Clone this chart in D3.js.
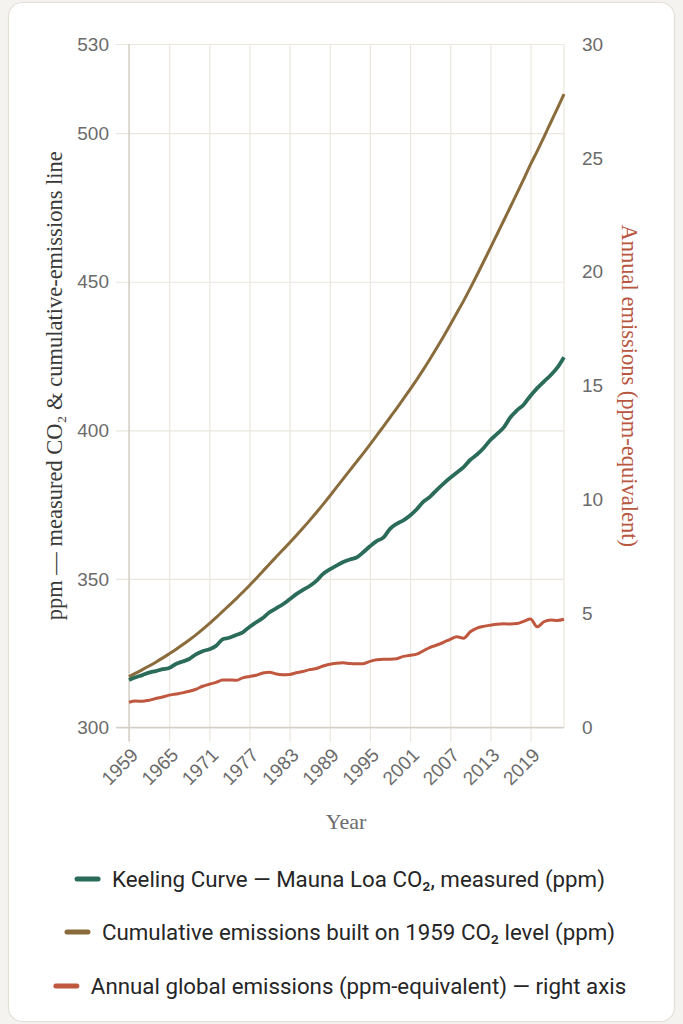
<!DOCTYPE html>
<html><head><meta charset="utf-8">
<script src="https://cdn.jsdelivr.net/npm/d3@7"></script>
<style>
html,body{margin:0;padding:0;background:#f4f3ef;}
svg{display:block;}
</style></head>
<body>
<svg id="chart" width="683" height="1024"></svg>
<script>
const years = d3.range(1959, 2025);
const keeling = [315.98,316.91,317.64,318.45,318.99,319.62,320.04,321.37,322.18,323.05,324.62,325.68,326.32,327.46,329.68,330.19,331.12,332.03,333.84,335.41,336.84,338.76,340.12,341.48,343.15,344.87,346.35,347.61,349.31,351.69,353.20,354.45,355.70,356.54,357.21,358.96,360.97,362.74,363.88,366.84,368.54,369.71,371.32,373.45,375.98,377.70,379.98,382.09,384.02,385.83,387.64,390.10,391.85,394.06,396.74,398.81,401.01,404.41,406.76,408.72,411.65,414.21,416.41,418.53,421.08,424.61];
const cumulative = [317.11,318.29,319.46,320.68,321.98,323.34,324.79,326.28,327.83,329.45,331.16,333.00,334.94,336.95,339.07,341.20,343.30,345.52,347.80,350.13,352.57,355.04,357.43,359.79,362.17,364.61,367.11,369.70,372.34,375.09,377.92,380.79,383.68,386.54,389.39,392.24,395.19,398.21,401.27,404.32,407.40,410.57,413.80,417.08,420.51,424.09,427.78,431.58,435.52,439.58,443.57,447.84,452.28,456.80,461.37,465.98,470.61,475.24,479.88,484.62,489.47,493.97,498.69,503.50,508.28,513.12];
const annual = [1.11,1.16,1.15,1.20,1.27,1.34,1.42,1.47,1.52,1.59,1.68,1.81,1.90,1.98,2.08,2.09,2.07,2.18,2.24,2.29,2.39,2.43,2.35,2.32,2.33,2.40,2.46,2.54,2.59,2.70,2.78,2.82,2.84,2.81,2.80,2.80,2.90,2.97,3.00,3.00,3.02,3.12,3.17,3.22,3.37,3.52,3.62,3.74,3.87,3.98,3.92,4.20,4.36,4.44,4.49,4.53,4.55,4.54,4.56,4.66,4.76,4.42,4.64,4.72,4.70,4.75];
const xTicks = [1959,1965,1971,1977,1983,1989,1995,2001,2007,2013,2019];
const yLeftTicks = [300,350,400,450,500,530];
const yRightTicks = [0,5,10,15,20,25,30];
const seriesNames = ["Keeling Curve — Mauna Loa CO₂, measured (ppm)","Cumulative emissions built on 1959 CO₂ level (ppm)","Annual global emissions (ppm-equivalent) — right axis"];
const seriesColors = ["#2a6b59","#8a6c3c","#c0573f"];

const svg = d3.select("#chart");
// card
svg.append("rect").attr("x",8.5).attr("y",2.5).attr("width",666).attr("height",1019).attr("rx",14)
  .attr("fill","#ffffff").attr("stroke","#e3e0d8").attr("stroke-width",1.2);

const L=129, R=564, T=44, B=727.5;
const x = d3.scaleLinear().domain([1959,2024]).range([L,R]);
const yL = d3.scaleLinear().domain([300,530]).range([B,T]);
const yR = d3.scaleLinear().domain([0,30]).range([B,T]);
const gridC="#ebe7de", axisC="#d3cfc6", tickTxt="#6b6b6b", sans="'Liberation Sans', Arial, sans-serif", serif="'Liberation Serif','Times New Roman', serif";

// horizontal grid + left axis
const gy = svg.append("g").attr("transform",`translate(${L},0)`)
  .call(d3.axisLeft(yL).tickValues(yLeftTicks).tickSizeInner(-(R-L)).tickSizeOuter(0).tickPadding(20).tickFormat(d3.format("d")));
gy.select(".domain").remove();
gy.selectAll(".tick line").attr("stroke",gridC).attr("x1",-13).attr("stroke-width",1.2);
gy.selectAll(".tick text").attr("fill",tickTxt).attr("font-family",sans).attr("font-size",19);

// vertical grid + bottom axis
const gx = svg.append("g").attr("transform",`translate(0,${B})`)
  .call(d3.axisBottom(x).tickValues(xTicks).tickSizeInner(-(B-T)).tickSizeOuter(0).tickFormat(d3.format("d")));
gx.select(".domain").remove();
gx.selectAll(".tick line").attr("stroke",gridC).attr("y1",14).attr("stroke-width",1.2);
gx.selectAll(".tick text").attr("fill",tickTxt).attr("font-family",sans).attr("font-size",19)
  .attr("text-anchor","end").attr("transform","translate(3,22) rotate(-45)").attr("dy","0.35em");

// right edge line
svg.append("line").attr("x1",R).attr("x2",R).attr("y1",T).attr("y2",B).attr("stroke",gridC).attr("stroke-width",1.2);
// axis lines
svg.append("line").attr("x1",L).attr("x2",L).attr("y1",T).attr("y2",B+14).attr("stroke",axisC).attr("stroke-width",1.4);
svg.append("line").attr("x1",L-13).attr("x2",R).attr("y1",B).attr("y2",B).attr("stroke",axisC).attr("stroke-width",1.4);

// right axis
const gr = svg.append("g").attr("transform",`translate(${R},0)`)
  .call(d3.axisRight(yR).tickValues(yRightTicks).tickSize(0).tickPadding(18));
gr.select(".domain").remove();
gr.selectAll(".tick text").attr("fill",tickTxt).attr("font-family",sans).attr("font-size",19);

// lines
const lineL = (arr)=> d3.line().x((d,i)=>x(years[i])).y(d=>yL(d)).curve(d3.curveMonotoneX)(arr);
const lineR = d3.line().x((d,i)=>x(years[i])).y(d=>yR(d)).curve(d3.curveMonotoneX);
svg.append("path").attr("d",lineR(annual)).attr("fill","none").attr("stroke",seriesColors[2]).attr("stroke-width",3).attr("stroke-linejoin","round");
svg.append("path").attr("d",lineL(cumulative)).attr("fill","none").attr("stroke",seriesColors[1]).attr("stroke-width",3).attr("stroke-linejoin","round");
svg.append("path").attr("d",lineL(keeling)).attr("fill","none").attr("stroke",seriesColors[0]).attr("stroke-width",3.8).attr("stroke-linejoin","round");

// axis titles
svg.append("text").attr("transform",`translate(62,${(T+B)/2}) rotate(-90)`).attr("text-anchor","middle")
  .attr("font-family",serif).attr("font-size",22.5).attr("fill","#3a3a3a")
  .text("ppm — measured CO₂ & cumulative-emissions line");
svg.append("text").attr("transform",`translate(622,${(T+B)/2}) rotate(90)`).attr("text-anchor","middle")
  .attr("font-family",serif).attr("font-size",22.5).attr("fill","#b8563f")
  .text("Annual emissions (ppm-equivalent)");
svg.append("text").attr("x",346).attr("y",829).attr("text-anchor","middle")
  .attr("font-family",serif).attr("font-size",22).attr("fill","#6b6b6b").text("Year");

// legend
const legY=[879,932,986];
seriesNames.forEach((name,i)=>{
  const g = svg.append("g");
  const t = g.append("text").attr("x",35).attr("y",legY[i]).attr("dy","0.35em")
    .attr("font-family","Roboto, 'Liberation Sans', sans-serif").attr("font-size",22.3).attr("fill","#262626").text(name);
  g.append("line").attr("x1",0).attr("x2",21).attr("y1",legY[i]).attr("y2",legY[i])
    .attr("stroke",seriesColors[i]).attr("stroke-width",5).attr("stroke-linecap","round");
  const w = 35 + t.node().getComputedTextLength();
  g.attr("transform",`translate(${341 - w/2},0)`);
});
</script>
</body></html>
